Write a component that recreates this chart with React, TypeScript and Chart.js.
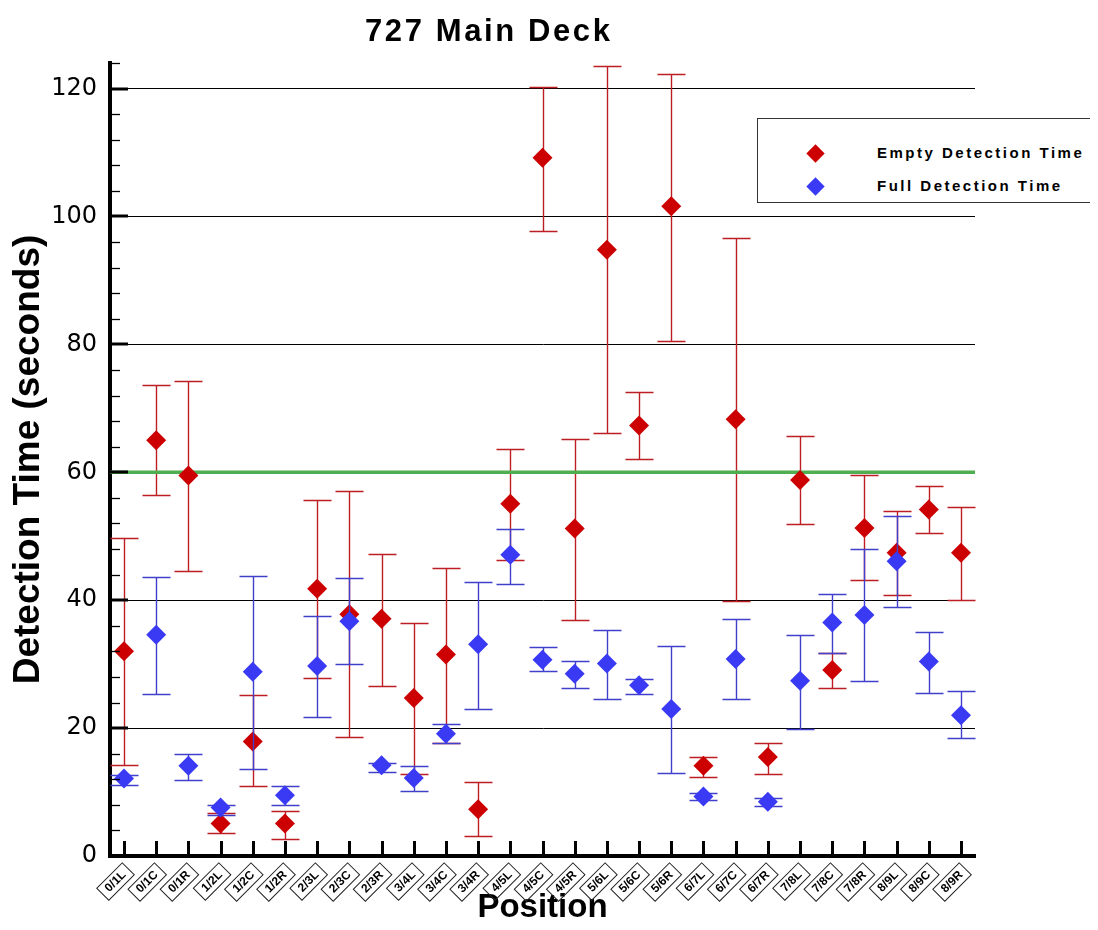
import React, { useEffect, useRef } from 'react';
import { Chart, registerables } from 'chart.js';

Chart.register(...registerables);

// ---------- data ----------
const positions = [
  '0/1L', '0/1C', '0/1R', '1/2L', '1/2C', '1/2R', '2/3L', '2/3C', '2/3R',
  '3/4L', '3/4C', '3/4R', '4/5L', '4/5C', '4/5R', '5/6L', '5/6C', '5/6R',
  '6/7L', '6/7C', '6/7R', '7/8L', '7/8C', '7/8R', '8/9L', '8/9C', '8/9R',
];

const emptyMean = [32.0, 65.0, 59.5, 5.1, 17.9, 5.1, 41.8, 37.8, 37.1, 24.7, 31.5, 7.3, 55.1, 109.2, 51.2, 94.8, 67.3, 101.6, 14.1, 68.3, 15.5, 58.8, 29.1, 51.3, 47.4, 54.2, 47.4];
const emptyHigh = [49.8, 73.6, 74.3, 6.8, 25.1, 7.0, 55.7, 57.0, 47.3, 36.5, 45.1, 11.5, 63.7, 120.2, 65.2, 123.5, 72.5, 122.3, 15.5, 96.7, 17.7, 65.6, 31.8, 59.5, 54.0, 57.9, 54.6];
const emptyLow = [14.2, 56.5, 44.6, 3.6, 10.9, 2.7, 27.8, 18.6, 26.6, 12.9, 17.7, 3.1, 46.3, 97.8, 36.9, 66.2, 62.1, 80.6, 12.4, 39.8, 12.8, 51.9, 26.2, 43.1, 40.8, 50.5, 40.1];

const fullMean = [12.1, 34.6, 14.1, 7.6, 28.8, 9.5, 29.7, 36.7, 14.2, 12.2, 19.1, 33.1, 47.1, 30.7, 28.5, 30.1, 26.7, 23.0, 9.3, 30.8, 8.5, 27.4, 36.5, 37.7, 46.1, 30.4, 22.0];
const fullHigh = [12.6, 43.6, 15.9, 7.9, 43.8, 10.9, 37.6, 43.4, 14.6, 14.1, 20.7, 42.9, 51.2, 32.7, 30.5, 35.4, 27.7, 32.9, 9.8, 37.1, 9.0, 34.6, 41.0, 48.0, 53.2, 35.0, 25.8];
const fullLow = [11.1, 25.3, 11.9, 6.4, 13.6, 7.9, 21.7, 30.1, 13.2, 10.1, 17.7, 23.0, 42.5, 28.9, 26.3, 24.6, 25.3, 13.0, 8.7, 24.5, 7.8, 19.8, 31.8, 27.4, 39.0, 25.5, 18.4];

const yTickValues = [0, 20, 40, 60, 80, 100, 120];
const yMinorStep = 4;
const yMin = 0;
const yMax = 124;
const thresholdValue = 60;
const xEdgePad = 0.435;

const FONT = '"Liberation Sans", Arial, Helvetica, sans-serif';
const RED = '#cc0000';
const BLUE = '#3a3af5';
const RED_BAR = 'rgb(188,30,36)';
const BLUE_BAR = 'rgb(64,64,204)';
const GREEN = '#4fae4f';
const X_LABEL_SIZE = 12;

// ---------- plugins ----------
function drawErrorBars(chart: any, ds: any) {
  const { ctx } = chart;
  const xs = chart.scales.x;
  const ys = chart.scales.y;
  ctx.save();
  ctx.strokeStyle = ds.errColor;
  ctx.lineWidth = 1.4;
  const cap = 14;
  ds.errLow.forEach((lo: number, i: number) => {
    const hi = ds.errHigh[i];
    const px = Math.round(xs.getPixelForValue(ds.data[i].x)) + 0.5;
    const pl = Math.round(ys.getPixelForValue(lo)) + 0.5;
    const ph = Math.round(ys.getPixelForValue(hi)) + 0.5;
    ctx.beginPath();
    ctx.moveTo(px, pl);
    ctx.lineTo(px, ph);
    ctx.moveTo(px - cap, pl);
    ctx.lineTo(px + cap, pl);
    ctx.moveTo(px - cap, ph);
    ctx.lineTo(px + cap, ph);
    ctx.stroke();
  });
  ctx.restore();
}

const errorBarPlugin = {
  id: 'errorBars',
  beforeDatasetsDraw(chart: any) {
    chart.data.datasets.forEach((ds: any) => {
      if (ds.errLow && ds.errUnder) drawErrorBars(chart, ds);
    });
  },
  beforeDatasetDraw(chart: any, args: any) {
    const ds: any = chart.data.datasets[args.index];
    if (ds.errLow && !ds.errUnder) drawErrorBars(chart, ds);
  },
};

const axisDecorPlugin = {
  id: 'axisDecor',
  afterDraw(chart: any) {
    const { ctx, chartArea } = chart;
    const xs = chart.scales.x;
    const ys = chart.scales.y;
    ctx.save();
    ctx.strokeStyle = '#000';
    // y major ticks (inward)
    ctx.lineWidth = 3;
    yTickValues.forEach((v) => {
      const py = Math.round(ys.getPixelForValue(v));
      ctx.beginPath();
      ctx.moveTo(chartArea.left, py);
      ctx.lineTo(chartArea.left + 18, py);
      ctx.stroke();
    });
    // y minor ticks
    ctx.lineWidth = 1.3;
    for (let v = yMin + yMinorStep; v <= yMax + 0.001; v += yMinorStep) {
      if (yTickValues.includes(v)) continue;
      const py = Math.round(ys.getPixelForValue(v)) + 0.5;
      ctx.beginPath();
      ctx.moveTo(chartArea.left, py);
      ctx.lineTo(chartArea.left + 10, py);
      ctx.stroke();
    }
    // x ticks (inward)
    ctx.lineWidth = 3;
    positions.forEach((_, i) => {
      const px = Math.round(xs.getPixelForValue(i)) + 0.5;
      ctx.beginPath();
      ctx.moveTo(px, chartArea.bottom);
      ctx.lineTo(px, chartArea.bottom - 15);
      ctx.stroke();
    });
    // boxes around rotated x labels
    const items = xs.getLabelItems();
    ctx.lineWidth = 1;
    ctx.strokeStyle = '#222';
    ctx.font = `bold ${X_LABEL_SIZE}px ${FONT}`;
    items.forEach((it: any) => {
      const [tx, ty] = it.options.translation;
      const w = ctx.measureText(it.label).width;
      ctx.save();
      ctx.translate(tx, ty);
      ctx.rotate(it.options.rotation);
      ctx.strokeRect(-w - 6, it.textOffset - 8.5, w + 12, 17);
      ctx.restore();
    });
    ctx.restore();
  },
};

// ---------- component ----------
export default function App() {
  const canvasRef = useRef<HTMLCanvasElement | null>(null);

  useEffect(() => {
    if (!canvasRef.current) return;
    const xMinV = -xEdgePad;
    const xMaxV = positions.length - 1 + xEdgePad;
    const chart = new Chart(canvasRef.current, {
      data: {
        datasets: [
          {
            type: 'line',
            label: 'Threshold',
            data: [
              { x: xMinV, y: thresholdValue },
              { x: xMaxV, y: thresholdValue },
            ],
            borderColor: GREEN,
            borderWidth: 3.5,
            pointRadius: 0,
            order: 3,
          } as any,
          {
            type: 'scatter',
            label: 'Empty Detection Time',
            data: emptyMean.map((v, i) => ({ x: i, y: v })),
            backgroundColor: RED,
            borderColor: RED,
            borderWidth: 0,
            pointStyle: 'rectRot',
            pointRadius: 10,
            errLow: emptyLow,
            errHigh: emptyHigh,
            errColor: RED_BAR,
            errUnder: true,
            order: 2,
          } as any,
          {
            type: 'scatter',
            label: 'Full Detection Time',
            data: fullMean.map((v, i) => ({ x: i, y: v })),
            backgroundColor: BLUE,
            borderColor: BLUE,
            borderWidth: 0,
            pointStyle: 'rectRot',
            pointRadius: 10,
            errLow: fullLow,
            errHigh: fullHigh,
            errColor: BLUE_BAR,
            errUnder: false,
            order: 1,
          } as any,
        ],
      },
      options: {
        responsive: false,
        animation: false,
        devicePixelRatio: 1,
        events: [],
        layout: { padding: { top: 55, right: 115, left: 0, bottom: 0 } },
        plugins: {
          legend: { display: false },
          title: { display: false },
          tooltip: { enabled: false },
        },
        scales: {
          x: {
            type: 'linear',
            min: xMinV,
            max: xMaxV,
            afterBuildTicks: (s: any) => {
              s.ticks = positions.map((_, i) => ({ value: i }));
            },
            afterFit: (s: any) => {
              s.height = 66;
            },
            grid: { drawOnChartArea: false, drawTicks: false },
            border: { display: true, color: '#000', width: 4 },
            ticks: {
              autoSkip: false,
              minRotation: 45,
              maxRotation: 45,
              padding: 12,
              color: '#000',
              font: { family: FONT, size: X_LABEL_SIZE, weight: 'bold' },
              callback: (v: any) => positions[v] ?? '',
            },
            title: {
              display: true,
              text: 'Position',
              color: '#000',
              font: { family: FONT, size: 33, weight: 'bold', lineHeight: 0.8 },
              padding: { top: 0, bottom: 1 },
            },
          },
          y: {
            type: 'linear',
            min: yMin,
            max: yMax,
            afterBuildTicks: (s: any) => {
              s.ticks = yTickValues.map((v) => ({ value: v }));
            },
            afterFit: (s: any) => {
              s.width = 102;
            },
            grid: {
              drawTicks: false,
              lineWidth: 1,
              color: (c: any) =>
                c.tick && (c.tick.value === yMin || c.tick.value === thresholdValue)
                  ? 'rgba(0,0,0,0)'
                  : '#000',
            },
            border: { display: true, color: '#000', width: 4 },
            ticks: {
              padding: 13,
              color: '#000',
              font: { family: '"DejaVu Sans", Arial, sans-serif', size: 24 },
            },
            title: {
              display: true,
              text: 'Detection Time (seconds)',
              color: '#000',
              font: { family: FONT, size: 37, weight: 'bold', lineHeight: 1 },
              padding: { top: 2, bottom: 0 },
            },
          },
        },
      } as any,
      plugins: [errorBarPlugin, axisDecorPlugin],
    });
    return () => chart.destroy();
  }, []);

  const legendRow = (color: string, text: string, cy: number) => (
    <>
      <div
        style={{
          position: 'absolute',
          left: 57 - 6.5,
          top: cy - 6.5,
          width: 13,
          height: 13,
          background: color,
          transform: 'rotate(45deg)',
        }}
      />
      <span
        style={{
          position: 'absolute',
          left: 119,
          top: cy - 10,
          lineHeight: '20px',
          whiteSpace: 'nowrap',
        }}
      >
        {text}
      </span>
    </>
  );

  return (
    <div style={{ position: 'relative', width: 1082, height: 914 }}>
      <canvas ref={canvasRef} width={1082} height={914} style={{ display: 'block' }} />
      <div
        style={{
          position: 'absolute',
          left: 357,
          top: 7,
          fontFamily: FONT,
          fontWeight: 'bold',
          fontSize: 31,
          letterSpacing: '2.6px',
          lineHeight: '31px',
          whiteSpace: 'nowrap',
          color: '#000',
        }}
      >
        727 Main Deck
      </div>
      <div
        style={{
          position: 'absolute',
          left: 749,
          top: 110,
          width: 338,
          height: 83,
          border: '1px solid #333',
          background: '#fff',
          fontFamily: FONT,
          fontWeight: 'bold',
          fontSize: 15,
          letterSpacing: '2.5px',
          color: '#000',
        }}
      >
        {legendRow(RED, 'Empty Detection Time', 34)}
        {legendRow(BLUE, 'Full Detection Time', 67)}
      </div>
    </div>
  );
}
